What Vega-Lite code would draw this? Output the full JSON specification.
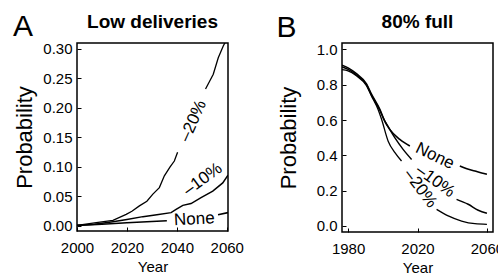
{
  "$schema": "https://vega.github.io/schema/vega-lite/v6.json",
  "padding": {"left": 13, "top": 12, "right": 0, "bottom": 0},
  "background": "white",
  "datasets": {
    "a": [
      {"series": "None", "seg": 1, "year": 2000, "p": 0.001},
      {"series": "None", "seg": 1, "year": 2010, "p": 0.003},
      {"series": "None", "seg": 1, "year": 2020, "p": 0.0056},
      {"series": "None", "seg": 1, "year": 2030, "p": 0.0075},
      {"series": "None", "seg": 1, "year": 2036, "p": 0.0088},
      {"series": "None", "seg": 2, "year": 2056.5, "p": 0.019},
      {"series": "None", "seg": 2, "year": 2060.5, "p": 0.0226},
      {"series": "-10%", "seg": 1, "year": 2000, "p": 0.001},
      {"series": "-10%", "seg": 1, "year": 2007, "p": 0.003},
      {"series": "-10%", "seg": 1, "year": 2014.4, "p": 0.0073},
      {"series": "-10%", "seg": 1, "year": 2020, "p": 0.011},
      {"series": "-10%", "seg": 1, "year": 2026.4, "p": 0.0158},
      {"series": "-10%", "seg": 1, "year": 2032, "p": 0.019},
      {"series": "-10%", "seg": 1, "year": 2037.7, "p": 0.0226},
      {"series": "-10%", "seg": 1, "year": 2039.7, "p": 0.028},
      {"series": "-10%", "seg": 1, "year": 2042.4, "p": 0.035},
      {"series": "-10%", "seg": 1, "year": 2045.7, "p": 0.038},
      {"series": "-10%", "seg": 1, "year": 2049.7, "p": 0.048},
      {"series": "-10%", "seg": 1, "year": 2054.4, "p": 0.059},
      {"series": "-10%", "seg": 1, "year": 2058.4, "p": 0.073},
      {"series": "-10%", "seg": 1, "year": 2060.5, "p": 0.086},
      {"series": "-20%", "seg": 1, "year": 2000, "p": 0.001},
      {"series": "-20%", "seg": 1, "year": 2007.7, "p": 0.0056},
      {"series": "-20%", "seg": 1, "year": 2014.4, "p": 0.0096},
      {"series": "-20%", "seg": 1, "year": 2019.7, "p": 0.0198},
      {"series": "-20%", "seg": 1, "year": 2022, "p": 0.025},
      {"series": "-20%", "seg": 1, "year": 2025, "p": 0.034},
      {"series": "-20%", "seg": 1, "year": 2028, "p": 0.042},
      {"series": "-20%", "seg": 1, "year": 2030.4, "p": 0.054},
      {"series": "-20%", "seg": 1, "year": 2033, "p": 0.065},
      {"series": "-20%", "seg": 1, "year": 2035, "p": 0.085},
      {"series": "-20%", "seg": 1, "year": 2037.3, "p": 0.1},
      {"series": "-20%", "seg": 1, "year": 2039, "p": 0.11},
      {"series": "-20%", "seg": 1, "year": 2040.3, "p": 0.125},
      {"series": "-20%", "seg": 2, "year": 2051.5, "p": 0.232},
      {"series": "-20%", "seg": 2, "year": 2054.6, "p": 0.257},
      {"series": "-20%", "seg": 2, "year": 2056.6, "p": 0.285},
      {"series": "-20%", "seg": 2, "year": 2058.6, "p": 0.305},
      {"series": "-20%", "seg": 2, "year": 2060.5, "p": 0.32}
    ],
    "alabels": [
      {"series": "-20%", "label": "–20%", "year": 2046.5, "p": 0.178},
      {"series": "-10%", "label": "–10%", "year": 2050.4, "p": 0.079},
      {"series": "None", "label": "None", "year": 2047, "p": 0.0113}
    ],
    "b": [
      {"series": "None", "seg": 1, "year": 1976.5, "p": 0.91},
      {"series": "None", "seg": 1, "year": 1980, "p": 0.895},
      {"series": "None", "seg": 1, "year": 1984.8, "p": 0.862},
      {"series": "None", "seg": 1, "year": 1990.6, "p": 0.805},
      {"series": "None", "seg": 1, "year": 1993.4, "p": 0.748},
      {"series": "None", "seg": 1, "year": 1998.3, "p": 0.66},
      {"series": "None", "seg": 1, "year": 2001.1, "p": 0.594},
      {"series": "None", "seg": 1, "year": 2004, "p": 0.547},
      {"series": "None", "seg": 1, "year": 2009.8, "p": 0.49},
      {"series": "None", "seg": 1, "year": 2015.6, "p": 0.453},
      {"series": "None", "seg": 2, "year": 2044.4, "p": 0.34},
      {"series": "None", "seg": 2, "year": 2048, "p": 0.325},
      {"series": "None", "seg": 2, "year": 2053.1, "p": 0.311},
      {"series": "None", "seg": 2, "year": 2057, "p": 0.3},
      {"series": "None", "seg": 2, "year": 2060, "p": 0.293},
      {"series": "-10%", "seg": 1, "year": 1976.5, "p": 0.9},
      {"series": "-10%", "seg": 1, "year": 1980, "p": 0.887},
      {"series": "-10%", "seg": 1, "year": 1984.8, "p": 0.855},
      {"series": "-10%", "seg": 1, "year": 1990.6, "p": 0.8},
      {"series": "-10%", "seg": 1, "year": 1993.4, "p": 0.742},
      {"series": "-10%", "seg": 1, "year": 1998.3, "p": 0.655},
      {"series": "-10%", "seg": 1, "year": 2000.2, "p": 0.613},
      {"series": "-10%", "seg": 1, "year": 2003.5, "p": 0.555},
      {"series": "-10%", "seg": 1, "year": 2006.9, "p": 0.5},
      {"series": "-10%", "seg": 1, "year": 2011.7, "p": 0.434},
      {"series": "-10%", "seg": 1, "year": 2016.6, "p": 0.377},
      {"series": "-10%", "seg": 2, "year": 2042.5, "p": 0.151},
      {"series": "-10%", "seg": 2, "year": 2049.2, "p": 0.123},
      {"series": "-10%", "seg": 2, "year": 2055, "p": 0.089},
      {"series": "-10%", "seg": 2, "year": 2060, "p": 0.072},
      {"series": "-20%", "seg": 1, "year": 1976.5, "p": 0.885},
      {"series": "-20%", "seg": 1, "year": 1980, "p": 0.878},
      {"series": "-20%", "seg": 1, "year": 1984.8, "p": 0.85},
      {"series": "-20%", "seg": 1, "year": 1990.6, "p": 0.795},
      {"series": "-20%", "seg": 1, "year": 1993.4, "p": 0.738},
      {"series": "-20%", "seg": 1, "year": 1997.3, "p": 0.66},
      {"series": "-20%", "seg": 1, "year": 1999.3, "p": 0.604},
      {"series": "-20%", "seg": 1, "year": 2003.1, "p": 0.48},
      {"series": "-20%", "seg": 1, "year": 2007, "p": 0.415},
      {"series": "-20%", "seg": 1, "year": 2010.8, "p": 0.368},
      {"series": "-20%", "seg": 2, "year": 2031, "p": 0.094},
      {"series": "-20%", "seg": 2, "year": 2037.7, "p": 0.057},
      {"series": "-20%", "seg": 2, "year": 2045.4, "p": 0.028},
      {"series": "-20%", "seg": 2, "year": 2053.1, "p": 0.013},
      {"series": "-20%", "seg": 2, "year": 2060, "p": 0.0096}
    ],
    "blabels": [
      {"series": "None", "label": "None", "year": 2030, "p": 0.396},
      {"series": "-10%", "label": "–10%", "year": 2030.3, "p": 0.255},
      {"series": "-20%", "label": "–20%", "year": 2021.6, "p": 0.212}
    ]
  },
  "config": {
    "font": "Liberation Sans",
    "view": {"stroke": "black", "strokeWidth": 1.5},
    "axis": {
      "grid": false,
      "domain": false,
      "tickColor": "black",
      "tickSize": -4,
      "tickWidth": 1,
      "labelColor": "black",
      "labelFontSize": 15,
      "labelFont": "Liberation Sans",
      "titleColor": "black",
      "titleFont": "Liberation Sans",
      "titleFontWeight": "normal",
      "labelOverlap": false,
      "labelSeparation": 0,
      "labelFlush": false,
      "labelBound": false
    },
    "axisX": {"labelPadding": 13, "titleFontSize": 15, "titlePadding": 4},
    "axisY": {"labelPadding": 9, "titleFontSize": 22, "titlePadding": 6},
    "title": {"color": "black", "font": "Liberation Sans"},
    "text": {"font": "Liberation Sans", "fontSize": 17, "color": "black"}
  },
  "spacing": 31,
  "hconcat": [
    {
      "title": {"text": "A", "anchor": "start", "frame": "bounds", "fontSize": 30, "fontWeight": "normal", "offset": -30},
      "vconcat": [
        {
          "width": 151,
          "height": 188,
          "title": {"text": "Low deliveries", "fontSize": 19, "fontWeight": "bold", "anchor": "middle", "offset": 10},
          "layer": [
            {
              "data": {"name": "a"},
              "mark": {"type": "line", "color": "black", "clip": true},
              "encoding": {
                "x": {"field": "year", "type": "quantitative", "scale": {"domain": [2000, 2060.5], "nice": false, "zero": false},
                  "axis": {"title": "Year", "values": [2000, 2010, 2020, 2030, 2040, 2050, 2060], "format": "d", "labelOverlap": false, "labelExpr": "datum.value % 20 === 0 ? datum.label : ''"}},
                "y": {"field": "p", "type": "quantitative", "scale": {"domain": [-0.0085, 0.31], "nice": false, "zero": false},
                  "axis": {"title": "Probability", "tickCount": 7, "format": ".2f", "labelOverlap": false}},
                "detail": [{"field": "series"}, {"field": "seg"}],
                "strokeWidth": {"field": "series", "type": "nominal", "scale": {"domain": ["None", "-10%", "-20%"], "range": [1.6, 1.3, 1.3]}, "legend": null}
              }
            },
            {
              "data": {"name": "alabels"},
              "transform": [{"filter": "datum.series === '-20%'"}],
              "mark": {"type": "text", "angle": -66, "baseline": "middle", "align": "center"},
              "encoding": {"x": {"field": "year", "type": "quantitative"}, "y": {"field": "p", "type": "quantitative"}, "text": {"field": "label"}}
            },
            {
              "data": {"name": "alabels"},
              "transform": [{"filter": "datum.series === '-10%'"}],
              "mark": {"type": "text", "angle": -36, "baseline": "middle", "align": "center"},
              "encoding": {"x": {"field": "year", "type": "quantitative"}, "y": {"field": "p", "type": "quantitative"}, "text": {"field": "label"}}
            },
            {
              "data": {"name": "alabels"},
              "transform": [{"filter": "datum.series === 'None'"}],
              "mark": {"type": "text", "angle": -3, "baseline": "middle", "align": "center"},
              "encoding": {"x": {"field": "year", "type": "quantitative"}, "y": {"field": "p", "type": "quantitative"}, "text": {"field": "label"}}
            }
          ]
        }
      ]
    },
    {
      "title": {"text": "B", "anchor": "start", "frame": "bounds", "fontSize": 30, "fontWeight": "normal", "offset": -30},
      "vconcat": [
        {
          "width": 151,
          "height": 189,
          "title": {"text": "80% full", "fontSize": 19, "fontWeight": "bold", "anchor": "middle", "offset": 10},
          "layer": [
            {
              "data": {"name": "b"},
              "mark": {"type": "line", "color": "black", "interpolate": "monotone", "clip": true},
              "encoding": {
                "x": {"field": "year", "type": "quantitative", "scale": {"domain": [1976.5, 2063.5], "nice": false, "zero": false},
                  "axis": {"title": "Year", "values": [1980, 2000, 2020, 2040, 2060], "format": "d", "labelOverlap": false, "labelExpr": "(datum.value - 1980) % 40 === 0 ? datum.label : ''"}},
                "y": {"field": "p", "type": "quantitative", "scale": {"domain": [-0.034, 1.036], "nice": false, "zero": false},
                  "axis": {"title": "Probability", "tickCount": 6, "format": ".1f", "labelOverlap": false, "titlePadding": 16}},
                "detail": [{"field": "series"}, {"field": "seg"}],
                "strokeWidth": {"field": "series", "type": "nominal", "scale": {"domain": ["None", "-10%", "-20%"], "range": [2.8, 1.6, 1.1]}, "legend": null}
              }
            },
            {
              "data": {"name": "blabels"},
              "transform": [{"filter": "datum.series === 'None'"}],
              "mark": {"type": "text", "angle": 26, "baseline": "middle", "align": "center"},
              "encoding": {"x": {"field": "year", "type": "quantitative"}, "y": {"field": "p", "type": "quantitative"}, "text": {"field": "label"}}
            },
            {
              "data": {"name": "blabels"},
              "transform": [{"filter": "datum.series === '-10%'"}],
              "mark": {"type": "text", "angle": 36, "baseline": "middle", "align": "center"},
              "encoding": {"x": {"field": "year", "type": "quantitative"}, "y": {"field": "p", "type": "quantitative"}, "text": {"field": "label"}}
            },
            {
              "data": {"name": "blabels"},
              "transform": [{"filter": "datum.series === '-20%'"}],
              "mark": {"type": "text", "angle": 53, "baseline": "middle", "align": "center"},
              "encoding": {"x": {"field": "year", "type": "quantitative"}, "y": {"field": "p", "type": "quantitative"}, "text": {"field": "label"}}
            }
          ]
        }
      ]
    }
  ]
}
